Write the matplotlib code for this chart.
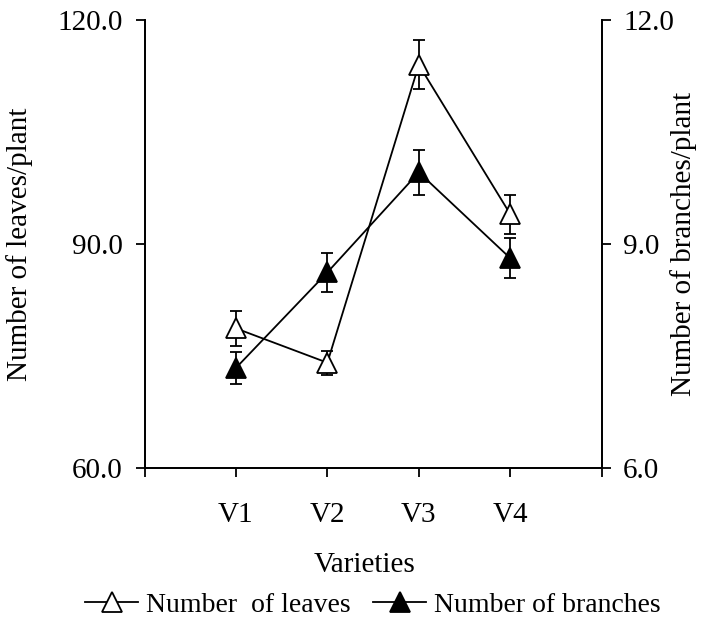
import numpy as np
import matplotlib.pyplot as plt
from matplotlib.lines import Line2D

plt.rcParams['font.family'] = ['Liberation Serif', 'DejaVu Serif']

varieties = ['V1', 'V2', 'V3', 'V4']
leaves = [78.7, 74.1, 114.0, 94.0]
leaves_err = [2.3, 1.6, 3.3, 2.6]
branches = [7.34, 8.62, 9.96, 8.81]
branches_err = [0.22, 0.26, 0.30, 0.27]

fs = 21
x = np.arange(1, len(varieties) + 1)

fig = plt.figure(figsize=(7.03, 6.21), dpi=100)
ax = fig.add_axes([144.5 / 703, 1 - 468 / 621, (601.7 - 144.5) / 703, 448 / 621])
ax2 = ax.twinx()

style = dict(color='black', lw=1.3, elinewidth=1.3, capsize=4.5, capthick=1.3,
             marker='^', markersize=14, markeredgecolor='black', markeredgewidth=1.3)
ax.errorbar(x, leaves, yerr=leaves_err, markerfacecolor='white', **style)
ax2.errorbar(x, branches, yerr=branches_err, markerfacecolor='black', **style)

ax.set_xlim(0, 5)
ax.set_ylim(60, 120)
ax2.set_ylim(6, 12)
ax.set_xticks(range(0, 6))
ax.set_xticklabels([''] + varieties + [''])
ax.set_yticks([60, 90, 120])
ax.set_yticklabels(['%.1f' % v for v in [60, 90, 120]])
ax2.set_yticks([6, 9, 12])
ax2.set_yticklabels(['%.1f' % v for v in [6, 9, 12]])

for a in (ax, ax2):
    a.spines['top'].set_visible(False)
    for s in a.spines.values():
        s.set_linewidth(1.3)
    a.tick_params(direction='out', length=6.5, width=1.3, labelsize=fs, pad=9)
ax.tick_params(axis='x', pad=18)

fig.text(20 / 703, 1 - 244 / 621, 'Number of leaves/plant', rotation=90,
         ha='center', va='center', fontsize=fs)
fig.text(684 / 703, 1 - 244 / 621, 'Number of branches/plant', rotation=90,
         ha='center', va='center', fontsize=fs)
fig.text(365 / 703, 1 - 565 / 621, 'Varieties', ha='center', va='center', fontsize=fs)

handles = [
    Line2D([0], [0], color='black', lw=1.3, marker='^', markersize=14,
           markerfacecolor='white', markeredgecolor='black', markeredgewidth=1.3),
    Line2D([0], [0], color='black', lw=1.3, marker='^', markersize=14,
           markerfacecolor='black', markeredgecolor='black', markeredgewidth=1.3),
]
fig.legend(handles, ['Number  of leaves', 'Number of branches'], loc='center',
           bbox_to_anchor=(373 / 703, 1 - 605 / 621), ncol=2, frameon=False,
           fontsize=20, handlelength=1.9, handletextpad=0.3, columnspacing=0.8,
           borderpad=0, borderaxespad=0)

fig.savefig('out.png', dpi=100)
